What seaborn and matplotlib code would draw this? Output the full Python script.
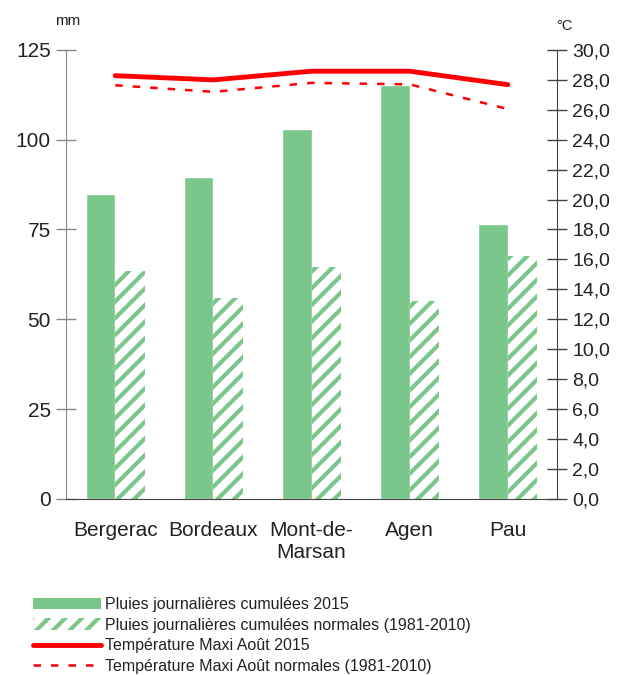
import numpy as np
import pandas as pd
import seaborn as sns
import matplotlib.pyplot as plt
from matplotlib.patches import Patch
from matplotlib.lines import Line2D

stations = ["Bergerac", "Bordeaux", "Mont-de-\nMarsan", "Agen", "Pau"]
pluie_2015 = [84.9, 89.7, 103.0, 115.3, 76.6]
pluie_normale = [63.5, 56.0, 64.6, 55.1, 67.6]
tmax_2015 = [28.28, 28.0, 28.58, 28.58, 27.68]
tmax_normale = [27.64, 27.2, 27.8, 27.7, 26.05]

lab_p15 = "Pluies journalières cumulées 2015"
lab_pn = "Pluies journalières cumulées normales (1981-2010)"
lab_t15 = "Température Maxi Août 2015"
lab_tn = "Température Maxi Août normales (1981-2010)"

green = "#7bc68a"
red = "#ff0000"

sns.set_style("white")
plt.rcParams["font.family"] = ["Liberation Sans", "DejaVu Sans"]
plt.rcParams["hatch.linewidth"] = 3.0

df = pd.DataFrame({
    "station": stations * 2,
    "mm": pluie_2015 + pluie_normale,
    "serie": [lab_p15] * 5 + [lab_pn] * 5,
})

fig = plt.figure(figsize=(6.3, 6.75), dpi=100)
ax = fig.add_axes([0.105, 0.261, 0.779, 0.665])

sns.barplot(data=df, x="station", y="mm", hue="serie", dodge=True, width=0.6,
            palette=[green, green], saturation=1, legend=False, ax=ax)
for bar in ax.containers[1]:
    bar.set_facecolor("white")
    bar.set_edgecolor(green)
    bar.set_linewidth(0)
    bar.set_hatch("//")

ax.set_xlim(-0.5, 4.5)
ax.set_ylim(0, 125)
ax.set_yticks([0, 25, 50, 75, 100, 125])
ax.set_xlabel("")
ax.set_ylabel("")
ax.set_xticks(np.arange(len(stations)))
ax.set_xticklabels(stations, fontsize=15, color="#222222")
ax.set_xticks(np.arange(len(stations) + 1) - 0.5, minor=True)
ax.tick_params(axis="x", which="major", length=0, pad=16)
ax.tick_params(axis="x", which="minor", direction="inout", length=10, width=1, color="#444444")
ax.tick_params(axis="y", direction="inout", length=14, width=1, color="#888888",
               labelsize=15, labelcolor="#222222", pad=4)
ax.spines["top"].set_visible(False)
ax.spines["right"].set_visible(False)
ax.spines["left"].set_color("#888888")
ax.spines["bottom"].set_color("#444444")

ax2 = ax.twinx()
xpos = np.arange(len(stations))
sns.lineplot(x=xpos, y=tmax_2015, color=red, linewidth=3.5, ax=ax2)
sns.lineplot(x=xpos, y=tmax_normale, color=red, linewidth=1.8, ax=ax2)
ax2.lines[1].set_dashes((3, 4))
ax2.set_ylim(0, 30)
ax2.set_yticks(np.arange(0, 31, 2))
ax2.set_yticklabels([f"{v:.1f}".replace(".", ",") for v in np.arange(0, 31, 2)])
ax2.tick_params(axis="y", direction="inout", length=14, width=1, color="#444444",
                labelsize=14, labelcolor="#222222", pad=4)
ax2.spines["top"].set_visible(False)
ax2.spines["left"].set_visible(False)
ax2.spines["bottom"].set_visible(False)
ax2.spines["right"].set_color("#444444")
ax2.set_xlim(-0.5, 4.5)

fig.text(0.087, 0.963, "mm", fontsize=11, color="#222222")
fig.text(0.883, 0.956, "°C", fontsize=10.5, color="#222222")

handles = [
    Patch(facecolor=green, edgecolor="none"),
    Patch(facecolor="white", edgecolor=green, hatch="//", linewidth=0),
    Line2D([], [], color=red, linewidth=3.5),
    Line2D([], [], color=red, linewidth=1.8, dashes=(3, 4)),
]
fig.legend(handles, [lab_p15, lab_pn, lab_t15, lab_tn], loc="upper left",
           bbox_to_anchor=(0.043, 0.125), frameon=False, fontsize=11.5,
           handlelength=4.25, handleheight=0.7, handletextpad=0.25, labelspacing=0.35,
           borderaxespad=0, labelcolor="#222222")

fig.savefig("out.png", dpi=100)
